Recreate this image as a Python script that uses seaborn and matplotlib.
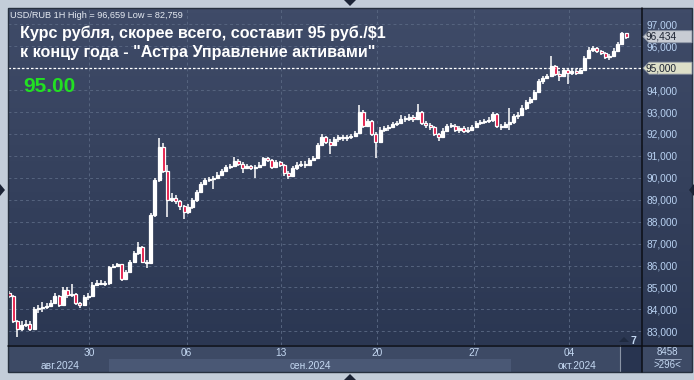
import numpy as np
import matplotlib
matplotlib.use("Agg")
import matplotlib.pyplot as plt
import seaborn as sns
from matplotlib.patches import Polygon, Rectangle
from matplotlib.lines import Line2D
from matplotlib.colors import LinearSegmentedColormap
from matplotlib.transforms import IdentityTransform

# ---------------- data (USD/RUB, 2-hour candles) ----------------
opens = [84.75, 84.60, 83.45, 83.10, 83.30, 83.35, 83.10, 84.00, 84.05, 84.10,
         84.15, 84.30, 84.60, 84.20, 84.90, 84.65, 84.70, 84.30, 84.20, 84.55,
         84.60, 85.10, 85.20, 85.15, 85.20, 85.95, 86.00, 86.05, 85.40, 85.70,
         86.15, 86.55, 86.85, 86.15, 86.10, 88.30, 89.90, 91.40, 90.30, 89.00,
         89.10, 88.95, 88.70, 88.45, 88.65, 89.00, 89.35, 89.70, 89.90, 89.95,
         90.00, 90.15, 90.30, 90.50, 90.55, 90.75, 90.65, 90.45, 90.55, 90.45,
         90.50, 90.60, 90.90, 90.80, 90.50, 90.70, 90.60, 90.20, 90.10, 90.45,
         90.60, 90.65, 90.60, 90.80, 90.90, 91.50, 91.85, 91.65, 91.50, 91.75,
         91.85, 91.80, 91.85, 91.90, 92.05, 93.00, 92.35, 92.60, 92.00, 91.65,
         92.20, 92.25, 92.30, 92.45, 92.50, 92.70, 92.68, 92.75, 92.70, 93.00,
         92.50, 92.40, 92.30, 92.00, 91.85, 92.15, 92.35, 92.38, 92.20, 92.25,
         92.15, 92.20, 92.30, 92.50, 92.55, 92.60, 92.62, 92.90, 92.35, 92.30,
         92.45, 92.55, 92.80, 92.85, 93.20, 93.45, 93.60, 93.90, 94.40, 94.55,
         94.65, 95.10, 94.75, 94.65, 94.90, 94.80, 94.85, 94.80, 94.90, 95.45,
         95.85, 95.90, 95.80, 95.70, 95.50, 95.55, 95.80, 96.10, 96.60]
closes = [84.60, 83.45, 83.10, 83.30, 83.35, 83.10, 84.00, 84.05, 84.10, 84.15,
          84.30, 84.60, 84.20, 84.90, 84.65, 84.70, 84.30, 84.20, 84.55, 84.60,
          85.10, 85.20, 85.15, 85.20, 85.95, 86.00, 86.05, 85.40, 85.70, 86.15,
          86.55, 86.85, 86.15, 86.10, 88.30, 89.90, 91.40, 90.30, 89.00, 89.10,
          88.95, 88.70, 88.45, 88.65, 89.00, 89.35, 89.70, 89.90, 89.95, 90.00,
          90.15, 90.30, 90.50, 90.55, 90.75, 90.65, 90.45, 90.55, 90.45, 90.50,
          90.60, 90.90, 90.80, 90.50, 90.70, 90.60, 90.20, 90.10, 90.45, 90.60,
          90.65, 90.60, 90.80, 90.90, 91.50, 91.85, 91.65, 91.50, 91.75, 91.85,
          91.80, 91.85, 91.90, 92.05, 93.00, 92.35, 92.60, 92.00, 91.65, 92.20,
          92.25, 92.30, 92.45, 92.50, 92.70, 92.68, 92.75, 92.70, 93.00, 92.50,
          92.40, 92.30, 92.00, 91.85, 92.15, 92.35, 92.38, 92.20, 92.25, 92.15,
          92.20, 92.30, 92.50, 92.55, 92.60, 92.62, 92.90, 92.35, 92.30, 92.45,
          92.55, 92.80, 92.85, 93.20, 93.45, 93.60, 93.90, 94.40, 94.55, 94.65,
          95.10, 94.75, 94.65, 94.90, 94.80, 94.85, 94.80, 94.90, 95.45, 95.85,
          95.90, 95.80, 95.70, 95.50, 95.55, 95.80, 96.10, 96.60, 96.434]
highs = [84.85, 84.65, 83.50, 83.45, 83.50, 83.45, 84.10, 84.20, 84.35, 84.30,
         84.45, 84.75, 84.65, 85.00, 85.00, 85.15, 84.75, 84.35, 84.65, 84.75,
         85.25, 85.35, 85.35, 85.30, 86.00, 86.05, 86.10, 86.05, 85.80, 86.25,
         86.65, 87.05, 86.90, 86.25, 88.40, 90.00, 91.80, 91.60, 90.60, 89.30,
         89.20, 89.00, 88.75, 88.80, 89.10, 89.45, 89.80, 90.00, 90.05, 90.10,
         90.25, 90.40, 90.60, 90.65, 90.95, 90.85, 90.70, 90.65, 90.60, 90.60,
         90.70, 90.95, 90.95, 90.85, 90.80, 90.75, 90.65, 90.30, 90.55, 90.70,
         90.75, 90.75, 90.90, 91.00, 91.60, 92.00, 91.90, 91.75, 91.85, 91.95,
         91.95, 91.95, 92.00, 92.15, 93.30, 93.10, 92.70, 92.65, 92.10, 92.30,
         92.35, 92.40, 92.55, 92.60, 92.85, 92.80, 92.90, 92.85, 93.35, 93.05,
         92.60, 92.50, 92.35, 92.05, 92.25, 92.45, 92.50, 92.45, 92.35, 92.35,
         92.30, 92.40, 92.60, 92.65, 92.70, 92.75, 93.00, 92.95, 92.45, 92.55,
         93.20, 92.90, 93.00, 93.30, 93.55, 93.70, 94.00, 94.50, 94.65, 94.75,
         95.55, 95.15, 94.85, 95.00, 95.00, 94.95, 94.95, 95.00, 95.55, 95.95,
         96.00, 95.95, 95.85, 95.75, 95.65, 95.90, 96.20, 96.659, 96.62]
lows = [84.50, 83.40, 82.759, 83.00, 83.20, 83.00, 83.05, 83.85, 83.90, 84.00,
        84.10, 84.25, 84.10, 84.15, 84.50, 84.55, 84.20, 84.05, 84.15, 84.45,
        84.55, 85.05, 85.10, 85.05, 85.10, 85.90, 85.95, 85.30, 85.35, 85.65,
        86.10, 86.50, 86.10, 85.90, 86.05, 88.20, 89.80, 90.20, 88.20, 88.90,
        88.80, 88.55, 88.10, 88.35, 88.60, 88.90, 89.30, 89.65, 89.80, 89.50,
        89.95, 90.10, 90.25, 90.40, 90.50, 90.55, 90.20, 90.40, 90.35, 90.00,
        90.45, 90.55, 90.70, 90.40, 90.45, 90.50, 90.10, 89.95, 90.05, 90.35,
        90.50, 90.45, 90.55, 90.75, 90.85, 91.45, 91.55, 91.10, 91.45, 91.65,
        91.70, 91.70, 91.75, 91.85, 92.00, 92.25, 92.30, 91.90, 90.90, 91.60,
        92.10, 92.15, 92.25, 92.35, 92.45, 92.55, 92.60, 92.55, 92.65, 92.40,
        92.25, 92.20, 91.90, 91.70, 91.80, 92.10, 92.25, 92.10, 92.05, 92.05,
        92.05, 92.15, 92.25, 92.40, 92.45, 92.50, 92.55, 92.25, 92.20, 92.25,
        92.20, 92.45, 92.70, 92.80, 93.10, 93.35, 93.55, 93.85, 94.30, 94.50,
        94.60, 94.65, 94.40, 94.60, 94.30, 94.70, 94.70, 94.75, 94.85, 95.40,
        95.75, 95.70, 95.60, 95.40, 95.35, 95.50, 95.75, 96.05, 96.35]

day_labels = ["30", "06", "13", "20", "27", "04"]
day_bar_pos = [19.25, 42.6, 65.2, 88.2, 111.6, 134.4]
month_labels = ["авг.2024", "сен.2024", "окт.2024"]
month_label_pos = [12.2, 72.2, 136.2]
month_band = (24.0, 120.4)          # September band (bar positions)
price_ticks = [83, 84, 85, 86, 87, 88, 89, 90, 91, 92, 93, 94, 95, 96, 97]
target_level = 95.0
last_price = 96.434
header = "USD/RUB 1H High = 96,659 Low = 82,759"
title_lines = ["Курс рубля, скорее всего, составит 95 руб./$1",
               "к концу года - \"Астра Управление активами\""]
target_text = "95.00"

# ---------------- style ----------------
sns.set_theme(style="dark")
plt.rcParams["font.family"] = ["Liberation Sans", "DejaVu Sans"]

W, H = 694, 380
fig = plt.figure(figsize=(W / 100, H / 100), dpi=100)
fig.patch.set_facecolor("#c3cdd9")


def fr(x0, y0, x1, y1):
    """pixel box (top-down) -> figure fraction rect"""
    return [x0 / W, 1 - y1 / H, (x1 - x0) / W, (y1 - y0) / H]


grad = LinearSegmentedColormap.from_list("bg", ["#2b3752", "#3f4b68"])
gvals = np.linspace(0, 1, 64).reshape(-1, 1)

# right price panel background
rax = fig.add_axes(fr(642, 8, 692, 345))
rax.imshow(gvals, cmap=grad, aspect="auto", origin="lower", extent=[0, 1, 0, 1])
rax.set_axis_off()

# bottom date panel
bax = fig.add_axes(fr(8, 345, 642, 372))
bax.set_facecolor("#3d4a65")
bax.set_ylim(0, 1)
for s in bax.spines.values():
    s.set_visible(False)
bax.set_xticks([])
bax.set_yticks([])

# bottom-right info panel
brax = fig.add_axes(fr(642, 345, 692, 372))
brax.set_facecolor("#3d4a65")
brax.set_xticks([]); brax.set_yticks([])
for s in brax.spines.values():
    s.set_visible(False)

# main axes
ax = fig.add_axes(fr(8, 8, 642, 345))
n = len(closes)
idx = np.arange(n)
xlim = (-0.24, 151.8)
ylim = (82.376, 97.743)
ax.imshow(gvals, cmap=grad, aspect="auto", origin="lower",
          extent=[xlim[0], xlim[1], ylim[0], ylim[1]], zorder=0)
ax.set_xlim(*xlim)
ax.set_ylim(*ylim)
for s in ax.spines.values():
    s.set_visible(False)

# grid
gcol = "#56647f"
for p in price_ticks:
    ax.axhline(p, color=gcol, lw=0.7, ls=(0, (3, 3)), zorder=1)
for p in day_bar_pos:
    ax.axvline(p, color=gcol, lw=0.7, ls=(0, (3, 3)), zorder=1)
ax.grid(False)

# candles
O = np.array(opens); C = np.array(closes); Hh = np.array(highs); L = np.array(lows)
up = C >= O
bottom = np.minimum(O, C)
height = np.maximum(np.abs(C - O), 0.05)
ax.vlines(idx, L, Hh, color="white", lw=1.1, zorder=3)
ax.bar(idx, height, bottom=bottom, width=0.72,
       color=np.where(up, "white", "#e3103f"), edgecolor="white",
       linewidth=0.9, zorder=4)

# target level
ax.axhline(target_level, color="white", lw=0.9, ls=(0, (2, 1.6)), zorder=5)

# y axis labels on the right
ax.yaxis.tick_right()
ax.set_yticks(price_ticks)
ax.set_yticklabels([f"{p:.3f}".replace(".", ",") for p in price_ticks])
ax.tick_params(axis="y", length=0, pad=3, labelsize=7.3, labelcolor="#b9d2f2")
ax.set_xticks([])

# bottom date labels
bax.set_xlim(*xlim)
bax.axvspan(month_band[0], month_band[1], ymin=0, ymax=0.48, color="#4a5875", lw=0)
bax.axvspan(146.5, xlim[1], ymin=0, ymax=1, color="#283450", lw=0)
bax.axvline(146.5, color="#8a94a6", lw=0.8)
for p, t in zip(day_bar_pos, day_labels):
    bax.text(p, 0.7, t, ha="center", va="center", color="#c4d8f2", fontsize=7.3)
for p, t in zip(month_label_pos, month_labels):
    bax.text(p, 0.24, t, ha="center", va="center", color="#c4d8f2", fontsize=7.3)

# bottom-right info
brax.set_xlim(0, 1); brax.set_ylim(0, 1)
brax.text(0.5, 0.74, "8458", ha="center", va="center", color="#c4d8f2", fontsize=7)
brax.plot([0.26, 0.78], [0.5, 0.5], color="#9aa8c0", lw=0.7)
brax.text(0.5, 0.25, ">296<", ha="center", va="center", color="#c4d8f2", fontsize=7)

# "7" marker
fig.text(633 / W, 1 - 341 / H, "7", ha="center", va="center", color="#c4d8f2",
         fontsize=7.5, fontweight="bold")
fig.add_artist(Polygon([[619, H - 342], [629, H - 342], [624, H - 337]],
                       closed=True, transform=IdentityTransform(),
                       facecolor="#1f2a40", edgecolor="none"))

# price tags
fig.canvas.draw()


def tag(val, fc, label):
    yd = ax.transData.transform((0, val))[1]
    pts = [[643, yd], [649, yd + 6], [692, yd + 6], [692, yd - 6], [649, yd - 6]]
    fig.add_artist(Polygon(pts, closed=True, transform=IdentityTransform(),
                           facecolor=fc, edgecolor="#8d96a5", lw=0.6, zorder=10))
    fig.text(646 / W, yd / H, label, ha="left", va="center", color="#1d2433",
             fontsize=7.3, zorder=11)


tag(last_price, "#c8ccd4", f"{last_price:.3f}".replace(".", ","))
tag(target_level, "#dddfc8", f"{target_level:.3f}".replace(".", ","))

# separators / frame
fig.add_artist(Line2D([642 / W, 642 / W], [1 - 8 / H, 1 - 372 / H], color="#0c0f16", lw=1.1))
fig.add_artist(Line2D([8 / W, 692 / W], [1 - 345.5 / H, 1 - 345.5 / H], color="#0c0f16", lw=1.1))
fig.add_artist(Rectangle((8 / W, 1 - 372 / H), 684 / W, 364 / H, transform=fig.transFigure,
                         fill=False, edgecolor="#26303f", lw=1.0))

# decorative triangles
tcol = "#1c2436"
for pts in ([[344, H], [356, H], [350, H - 6]],
            [[344, 0], [356, 0], [350, 6]],
            [[0, H - 184], [0, H - 196], [5, H - 190]],
            [[694, H - 184], [694, H - 196], [689, H - 190]]):
    fig.add_artist(Polygon(pts, closed=True, transform=IdentityTransform(),
                           facecolor=tcol, edgecolor="none"))

# texts
fig.text(10 / W, 1 - 15 / H, header, ha="left", va="center", color="#e6ebf3", fontsize=6.6)
fig.text(20 / W, 1 - 33 / H, title_lines[0], ha="left", va="center", color="white",
         fontsize=11.6, fontweight="bold")
fig.text(20 / W, 1 - 53 / H, title_lines[1], ha="left", va="center", color="white",
         fontsize=11.6, fontweight="bold")
fig.text(23 / W, 1 - 87 / H, target_text, ha="left", va="center", color="#22e022",
         fontsize=15, fontweight="bold")

fig.savefig("out.png", dpi=100, facecolor=fig.get_facecolor())
